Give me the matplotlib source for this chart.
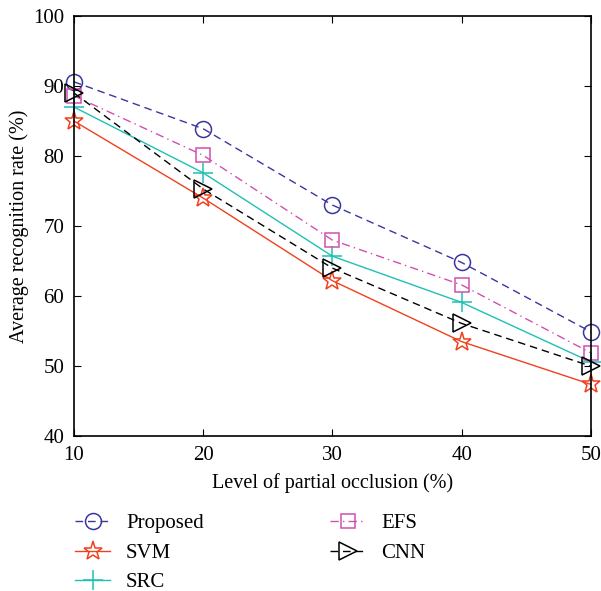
import matplotlib
matplotlib.use('Agg')
import matplotlib.pyplot as plt

levels = [10, 20, 30, 40, 50]
proposed = [90.6, 83.9, 73.0, 64.8, 54.9]
svm = [85.0, 74.0, 62.2, 53.5, 47.4]
src = [87.0, 77.6, 65.7, 59.1, 50.6]
efs = [88.6, 80.1, 68.0, 61.6, 51.9]
cnn = [89.0, 75.3, 64.0, 56.1, 50.0]

plt.rcParams['font.family'] = ['Liberation Serif', 'DejaVu Serif']

fig = plt.figure(figsize=(6.01, 5.91), dpi=100)
ax = fig.add_axes([0.123, 0.262, 0.860, 0.711])

kw = dict(lw=1, clip_on=False, mfc='none', mew=1.1)
ax.plot(levels, proposed, color='#3a36a0', ls=(0, (5.5, 3.5)), marker='o', ms=11.5, label='Proposed', **kw)
ax.plot(levels, svm, '-', color='#f0401e', marker='*', ms=14, label='SVM', **kw)
ax.plot(levels, src, '-', color='#1fc0b4', marker='+', ms=15, label='SRC', **kw)
ax.plot(levels, efs, color='#d050b0', ls=(0, (6, 3, 1, 3)), marker='s', ms=10, label='EFS', **kw)
ax.plot(levels, cnn, color='black', ls=(0, (5.5, 3.5)), marker='>', ms=12.5, label='CNN', **kw)

ax.set_xlim(10, 50)
ax.set_ylim(40, 100)
ax.set_xticks(levels)
ax.set_yticks(range(40, 101, 10))
ax.tick_params(direction='in', top=True, right=True, labelsize=15, length=5, pad=7)
for s in ax.spines.values():
    s.set_linewidth(1.2)
ax.set_xlabel('Level of partial occlusion (%)', fontsize=14.5, labelpad=6)
ax.set_ylabel('Average recognition rate (%)', fontsize=14.5, labelpad=3)

fig.legend(loc='upper left', bbox_to_anchor=(0.111, 0.145), ncol=2, frameon=False,
           fontsize=15, columnspacing=6.05, handlelength=1.7, handletextpad=0.75,
           labelspacing=0.48, borderaxespad=0)

fig.savefig('out.png', dpi=100)
